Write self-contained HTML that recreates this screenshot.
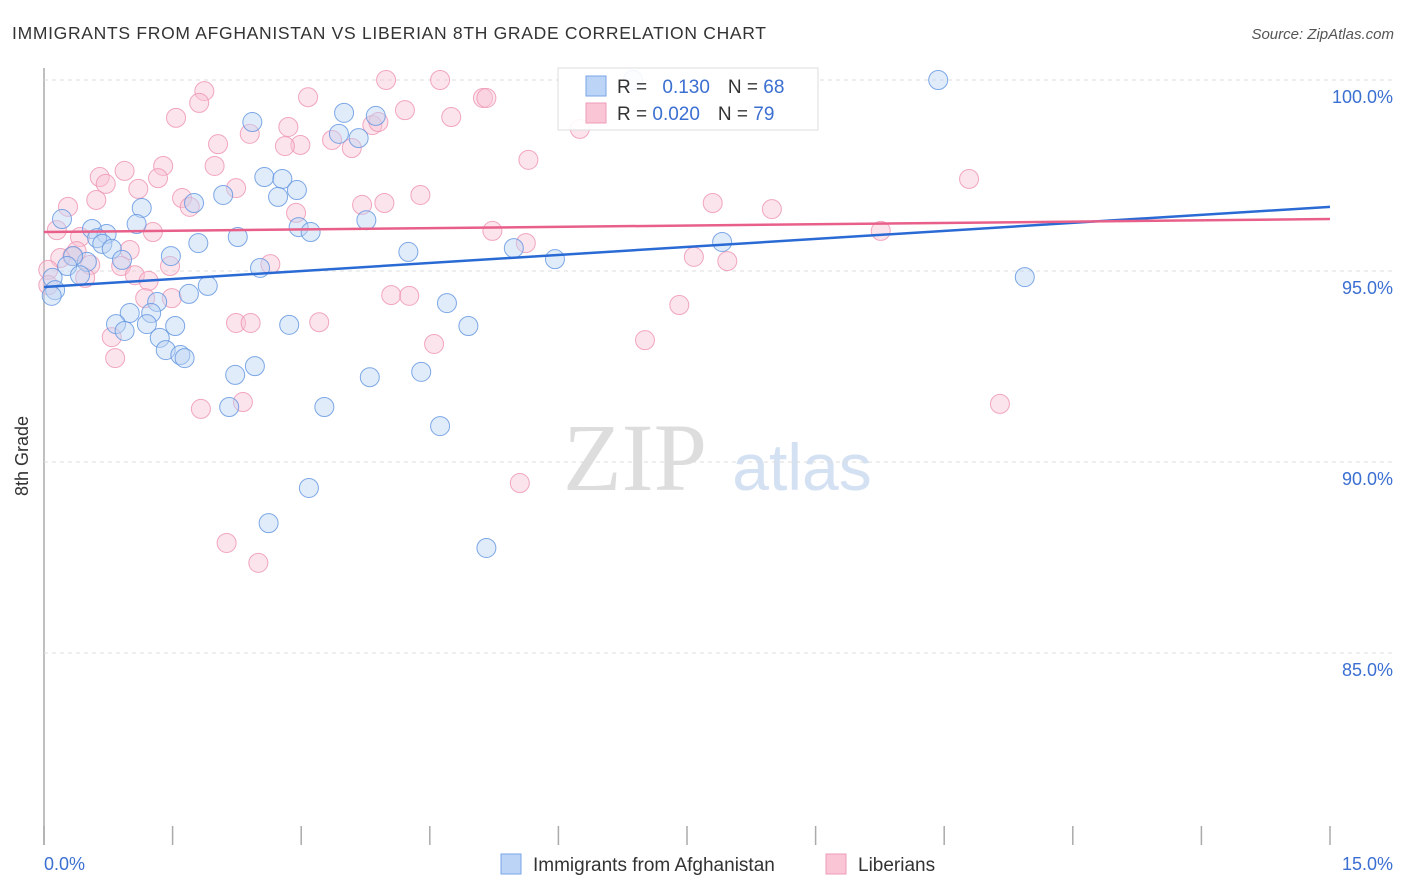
<!DOCTYPE html>
<html><head><meta charset="utf-8"><style>
body{margin:0;background:#fff;font-family:"Liberation Sans",sans-serif;}
svg{display:block}
</style></head><body>
<svg width="1406" height="892" id="c">
<text x="12" y="39" font-size="17.5" fill="#333" textLength="754">IMMIGRANTS FROM AFGHANISTAN VS LIBERIAN 8TH GRADE CORRELATION CHART</text>
<text x="1394" y="39" font-size="15" fill="#555" font-style="italic" text-anchor="end">Source: ZipAtlas.com</text>
<text x="635" y="490" font-size="96" fill="#ddd" font-family="Liberation Serif,serif" text-anchor="middle">ZIP</text>
<text x="802" y="490" font-size="66" fill="#d4e1f3" text-anchor="middle">atlas</text>
<g id="grid"></g>
<g id="pts"></g>
<g id="trend"></g>
<text x="28" y="456" font-size="18" fill="#333" transform="rotate(-90 28 456)" text-anchor="middle">8th Grade</text>
<text x="44" y="870" font-size="18" fill="#3b6fd1">0.0%</text>
<text x="1393" y="870" font-size="18" fill="#3b6fd1" text-anchor="end">15.0%</text>
<g>
<rect x="558" y="68" width="260" height="62" fill="#fff" fill-opacity="0.9" stroke="#ddd"/>
<rect x="586" y="76" width="20" height="20" fill="#bcd4f5" stroke="#7aa5e6"/>
<rect x="586" y="103" width="20" height="20" fill="#fac6d6" stroke="#ee9bb5"/>
<text x="617" y="93" font-size="19" fill="#333">R = <tspan fill="#3b6fd1" dx="10">0.130</tspan><tspan dx="18">N = </tspan><tspan fill="#3b6fd1">68</tspan></text>
<text x="617" y="120" font-size="19" fill="#333">R = <tspan fill="#3b6fd1">0.020</tspan><tspan dx="18">N = </tspan><tspan fill="#3b6fd1">79</tspan></text>
</g>
<g>
<rect x="501" y="854" width="20" height="20" fill="#bcd4f5" stroke="#7aa5e6"/>
<text x="533" y="871" font-size="19" fill="#333">Immigrants from Afghanistan</text>
<rect x="826" y="854" width="20" height="20" fill="#fac6d6" stroke="#ee9bb5"/>
<text x="858" y="871" font-size="19" fill="#333">Liberians</text>
</g>
</svg>
<script>
const blueX=[6.87,10.43,2.43,3.87,3.50,3.44,3.67,2.57,2.78,2.95,2.73,2.09,1.75,1.14,1.08,0.21,0.56,0.73,0.62,0.68,0.79,2.97,3.11,3.76,2.26,1.80,1.48,4.25,5.48,5.96,7.91,11.44,2.52,0.91,0.50,0.34,0.27,0.42,0.10,0.13,0.09,1.91,1.69,1.32,1.25,1.00,0.84,0.94,1.20,1.53,1.35,1.42,1.59,1.64,2.86,4.70,4.95,2.46,2.23,3.80,4.40,2.16,3.27,4.62,3.09,2.62,5.16];
const blueY=[100,100,98.90,99.06,99.14,98.59,98.48,97.46,97.41,97.12,96.94,96.99,96.78,96.65,96.23,96.36,96.10,95.97,95.86,95.71,95.58,96.15,96.02,96.33,95.89,95.73,95.39,95.50,95.60,95.31,95.76,94.84,95.08,95.29,95.24,95.39,95.13,94.89,94.82,94.50,94.35,94.61,94.40,94.19,93.90,93.90,93.61,93.43,93.61,93.56,93.25,92.93,92.80,92.72,93.59,94.16,93.56,92.51,92.28,92.22,92.36,91.44,91.44,90.94,89.32,88.40,87.75];
const pinkX=[4.62,3.99,1.87,1.81,3.08,5.12,5.16,4.21,4.75,1.54,2.40,2.03,2.99,2.81,2.85,3.36,3.59,3.83,3.90,6.25,5.65,1.39,1.99,0.94,1.33,0.65,0.72,1.10,2.24,1.61,0.61,0.28,1.70,2.94,3.71,3.97,4.39,7.80,8.49,10.79,0.15,0.42,1.27,5.23,9.76,5.62,1.00,0.38,0.33,0.19,2.64,1.47,0.90,0.54,0.05,0.05,1.06,1.22,0.48,7.58,7.97,1.49,1.18,4.05,4.26,7.41,2.24,2.41,3.21,0.79,7.01,4.55,0.83,2.32,1.83,11.15,5.55,2.13,2.50];
const pinkY=[100,100,99.71,99.40,99.55,99.53,99.53,99.21,99.03,99.01,98.59,98.32,98.30,98.27,98.77,98.43,98.22,98.82,98.90,98.72,97.91,97.75,97.75,97.62,97.43,97.46,97.28,97.15,97.17,96.91,96.86,96.68,96.68,96.52,96.73,96.78,96.99,96.78,96.62,97.41,96.07,95.89,96.02,96.05,96.05,95.73,95.55,95.52,95.39,95.34,95.18,95.13,95.13,95.16,95.03,94.63,94.89,94.74,94.82,95.37,95.26,94.29,94.29,94.37,94.35,94.11,93.64,93.64,93.66,93.27,93.19,93.09,92.72,91.57,91.39,91.52,89.45,87.88,87.36];
const trendBlue=[94.58,96.68];
const trendPink=[96.02,96.36];
const yTicks=[100,95,90,85];
const xTicks=[0,1.5,3,4.5,6,7.5,9,10.5,12,13.5,15];
const NS="http://www.w3.org/2000/svg";
const X0=44,X1=1330;
function sx(v){return X0+(X1-X0)*v/15;}
function sy(v){return 80+(100-v)*38.2;}
function mk(t,a,p){const e=document.createElementNS(NS,t);for(const k in a)e.setAttribute(k,a[k]);p.appendChild(e);return e;}
const grid=document.getElementById('grid');
mk('line',{x1:44,y1:68,x2:44,y2:845,stroke:'#aaa','stroke-width':1.5},grid);
yTicks.forEach(v=>{
const l=mk('line',{x1:44,x2:1393,y1:sy(v),y2:sy(v),stroke:'#ddd','stroke-dasharray':'4,4'},grid);


const t=mk('text',{x:1393,y:sy(v)+23,'font-size':18,fill:'#3b6fd1','text-anchor':'end'},grid);
t.textContent=v.toFixed(1)+'%';


});
xTicks.forEach(v=>{
const l=mk('line',{x1:sx(v),x2:sx(v),y1:826,y2:845,stroke:'#aaa','stroke-width':1.5},grid);


});
const pts=document.getElementById('pts');
function draw(xs,ys,fill,stroke,name){xs.forEach((x,i)=>{
const c=mk('circle',{cx:sx(x),cy:sy(ys[i]),r:9.5,fill:fill,'fill-opacity':0.45,stroke:stroke,'stroke-opacity':0.8,'stroke-width':1},pts);


});}
draw(pinkX,pinkY,'#f9c4d4','#ee92b0','point-liberian');
draw(blueX,blueY,'#bcd4f5','#5f94e0','point-afghanistan');
const tr=document.getElementById('trend');
const tb=mk('line',{x1:sx(0),y1:sy(trendBlue[0]),x2:sx(15),y2:sy(trendBlue[1]),stroke:'#2a6ad4','stroke-width':2.5},tr);


const tp=mk('line',{x1:sx(0),y1:sy(trendPink[0]),x2:sx(15),y2:sy(trendPink[1]),stroke:'#e8608a','stroke-width':2.5},tr);


</script>
</body></html>
